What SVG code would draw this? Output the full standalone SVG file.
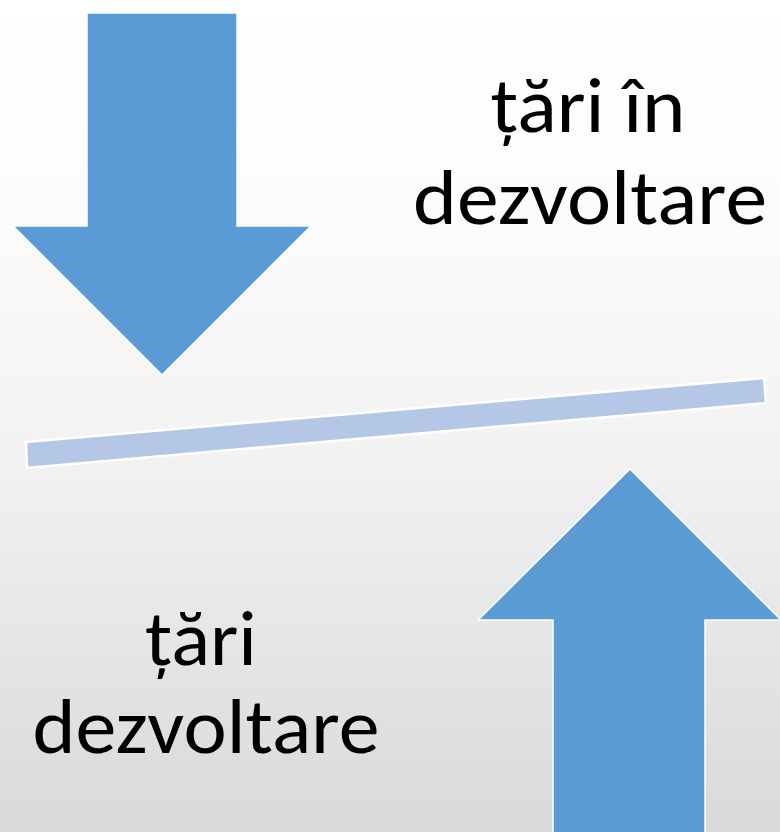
<svg xmlns="http://www.w3.org/2000/svg" width="780" height="832" viewBox="0 0 780 832">
<defs>
<linearGradient id="bg" x1="0" y1="0" x2="0" y2="1">
<stop offset="0" stop-color="#FFFFFF"/>
<stop offset="0.25" stop-color="#FCFCFC"/>
<stop offset="0.55" stop-color="#F2F2F2"/>
<stop offset="1" stop-color="#D9D9D9"/>
</linearGradient>
<style>
.arrow{fill:#5B9BD5;stroke:#FFFFFF;stroke-width:1.5;stroke-linejoin:miter}
.bar{fill:#B4C7E7;stroke:#FFFFFF;stroke-width:2.5}
.lbl{font-family:Carlito,Calibri,Lato,"Open Sans","Liberation Sans",sans-serif;font-size:79px;fill:#000000;text-anchor:middle}
</style>
</defs>
<rect x="0" y="0" width="780" height="832" fill="url(#bg)"/>
<g id="down-arrow">
<polygon class="arrow" points="87,13 237,13 237,226 311,226 162,375 13,226 87,226"/>
</g>
<g id="up-arrow">
<polygon class="arrow" points="630,469 781,620 705,620 705,840 553,840 553,620 478,620"/>
</g>
<g id="balance-bar">
<polygon class="bar" points="26,442 764,378 766,403 27,468"/>
</g>
<g id="label-top">
<text class="lbl" x="588" y="132" textLength="195" lengthAdjust="spacingAndGlyphs">țări în</text>
<text class="lbl" x="590" y="224" textLength="354" lengthAdjust="spacingAndGlyphs">dezvoltare</text>
</g>
<g id="label-bottom">
<text class="lbl" x="201" y="665" textLength="112" lengthAdjust="spacingAndGlyphs">țări</text>
<text class="lbl" x="206" y="753" textLength="347" lengthAdjust="spacingAndGlyphs">dezvoltare</text>
</g>
</svg>
